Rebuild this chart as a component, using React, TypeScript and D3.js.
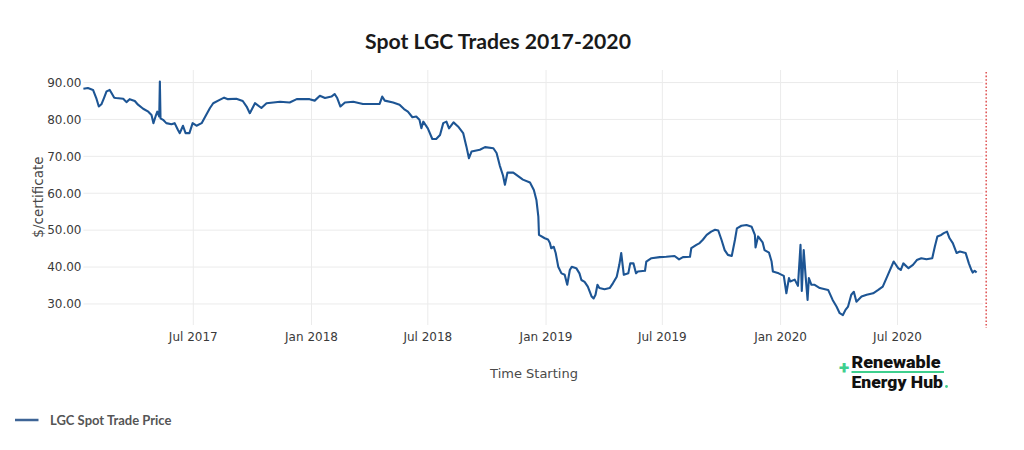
import React from "react";
import * as d3 from "d3";

const chartTitle = "Spot LGC Trades 2017-2020";
const yAxisTitle = "$/certificate";
const xAxisTitle = "Time Starting";
const seriesName = "LGC Spot Trade Price";
const yTickValues = [30, 40, 50, 60, 70, 80, 90];

const tradeDates = [
  "2017-01-11","2017-01-18","2017-01-26","2017-01-31","2017-02-04","2017-02-08","2017-02-12","2017-02-16","2017-02-21","2017-02-24",
  "2017-02-28","2017-03-03","2017-03-14","2017-03-19","2017-03-24","2017-04-01","2017-04-06","2017-04-14","2017-04-22","2017-04-27",
  "2017-04-30","2017-05-04","2017-05-06","2017-05-09","2017-05-10","2017-05-11","2017-05-15","2017-05-20","2017-05-28","2017-06-02",
  "2017-06-07","2017-06-10","2017-06-15","2017-06-19","2017-06-25","2017-06-30","2017-07-06","2017-07-14","2017-07-21","2017-07-27",
  "2017-08-01","2017-08-11","2017-08-18","2017-08-24","2017-09-06","2017-09-16","2017-09-22","2017-09-27","2017-10-05","2017-10-15",
  "2017-10-23","2017-11-13","2017-11-28","2017-12-09","2017-12-29",
  "2018-01-06","2018-01-14","2018-01-22","2018-02-01","2018-02-06","2018-02-10","2018-02-15","2018-02-22","2018-03-07","2018-03-22",
  "2018-04-07","2018-04-17","2018-04-21","2018-04-25","2018-05-08","2018-05-18","2018-05-25","2018-05-31","2018-06-07","2018-06-13",
  "2018-06-18","2018-06-21","2018-06-24","2018-07-01","2018-07-08","2018-07-14","2018-07-20","2018-07-25","2018-07-30","2018-08-03",
  "2018-08-10","2018-08-17","2018-08-25","2018-08-30","2018-09-03","2018-09-07","2018-09-20","2018-09-28","2018-10-11","2018-10-16",
  "2018-10-21","2018-10-26","2018-10-29","2018-11-02","2018-11-11","2018-11-18","2018-11-26","2018-12-07","2018-12-13","2018-12-17",
  "2018-12-20","2018-12-21","2018-12-30",
  "2019-01-04","2019-01-07","2019-01-09","2019-01-13","2019-01-16","2019-01-20","2019-01-25","2019-01-30","2019-02-03","2019-02-07",
  "2019-02-10","2019-02-17","2019-02-22","2019-02-25","2019-03-02","2019-03-07","2019-03-13","2019-03-16","2019-03-19","2019-03-22",
  "2019-03-25","2019-04-02","2019-04-10","2019-04-15","2019-04-21","2019-04-25","2019-04-28","2019-05-02","2019-05-09","2019-05-12",
  "2019-05-17","2019-05-21","2019-05-24","2019-06-04","2019-06-06","2019-06-14","2019-06-27","2019-07-07","2019-07-20","2019-07-27",
  "2019-08-02","2019-08-13","2019-08-15","2019-08-23","2019-08-28","2019-09-02","2019-09-08","2019-09-15","2019-09-21","2019-09-26",
  "2019-10-01","2019-10-06","2019-10-11","2019-10-17","2019-10-22","2019-10-25","2019-11-01","2019-11-09","2019-11-17","2019-11-22",
  "2019-11-23","2019-11-27","2019-12-04","2019-12-07","2019-12-14","2019-12-18","2019-12-20","2019-12-29",
  "2020-01-06","2020-01-10","2020-01-14","2020-01-16","2020-01-23","2020-01-28","2020-02-01","2020-02-03","2020-02-06","2020-02-09",
  "2020-02-12","2020-02-14","2020-02-18","2020-02-23","2020-03-02","2020-03-15","2020-03-22","2020-03-28","2020-04-02","2020-04-07",
  "2020-04-11","2020-04-15","2020-04-20","2020-04-24","2020-04-28","2020-05-06","2020-05-14","2020-05-24","2020-06-01","2020-06-08",
  "2020-06-16","2020-06-25","2020-07-02","2020-07-06","2020-07-10","2020-07-18","2020-07-25","2020-07-31","2020-08-07","2020-08-15",
  "2020-08-24","2020-08-28","2020-09-01","2020-09-07","2020-09-11","2020-09-16","2020-09-20","2020-09-25","2020-10-01","2020-10-06",
  "2020-10-15","2020-10-20","2020-10-24","2020-10-26","2020-10-29","2020-11-01"
];

const tradePrices = [
  88.3,88.5,88.0,85.8,83.5,84.1,85.8,87.6,88.0,87.1,
  85.9,85.8,85.6,84.7,85.5,85.0,84.0,82.9,82.1,81.2,
  79.0,81.2,82.1,80.8,90.3,80.3,79.9,79.0,78.7,79.0,
  77.2,76.3,78.3,76.3,76.3,79.0,78.3,79.0,81.2,83.1,
  84.4,85.3,85.9,85.5,85.6,85.0,83.5,81.7,84.4,83.1,
  84.4,84.8,84.6,85.5,85.5,
  85.1,86.4,85.8,86.2,86.9,85.8,83.5,84.6,84.8,84.2,
  84.2,84.2,86.2,85.1,84.6,84.0,82.8,82.1,80.6,80.8,
  79.9,77.6,79.4,77.6,74.7,74.7,75.8,79.0,79.4,77.6,
  79.2,78.1,76.3,72.7,69.5,71.3,71.8,72.5,72.2,70.9,
  67.5,64.8,62.3,65.6,65.6,64.7,63.7,62.9,60.9,58.2,
  53.7,48.7,47.8,
  47.5,46.5,45.1,45.5,43.8,40.1,38.3,37.9,35.2,39.2,
  40.1,39.7,38.3,36.5,36.0,34.7,32.0,31.5,32.5,35.2,
  34.3,34.0,34.3,35.6,37.4,40.6,43.8,37.9,38.3,41.0,
  41.0,38.3,38.8,39.0,41.5,42.4,42.7,42.8,43.0,42.1,
  42.7,42.8,45.1,46.0,46.5,47.4,48.7,49.6,50.1,49.9,
  47.4,44.6,43.3,43.0,47.4,50.5,51.2,51.4,50.9,48.7,
  45.3,48.3,46.7,44.6,43.9,41.5,38.8,38.3,
  37.6,32.9,37.0,36.1,36.6,34.9,46.0,33.5,44.6,37.4,
  31.1,37.0,35.2,35.2,34.3,33.8,31.1,29.3,27.5,27.0,
  28.4,29.3,32.5,33.3,30.6,32.0,32.5,32.9,33.8,34.7,
  37.9,41.5,39.7,39.2,41.0,39.7,40.6,41.9,42.4,42.1,
  42.4,45.5,48.3,48.7,49.2,49.6,47.8,46.5,43.8,44.2,
  43.8,41.0,39.2,38.5,39.0,38.5
];

const xDomain = ["2017-01-11", "2020-11-11"];
const yDomain = [24.3, 93.4];
const markerDate = "2020-11-16";

const parse = d3.timeParse("%Y-%m-%d");

export default function App() {
  const W = 1024, H = 450;
  const left = 83.4, right = 983, top = 70, bottom = 325;
  const x = d3.scaleTime().domain(xDomain.map((s) => parse(s) as Date)).range([left, right]);
  const y = d3.scaleLinear().domain(yDomain).range([bottom, top]);
  const data = tradeDates.map((d, i) => ({ date: parse(d) as Date, value: tradePrices[i] }));
  const line = d3
    .line<{ date: Date; value: number }>()
    .x((d) => x(d.date))
    .y((d) => y(d.value));
  const xTicks = x.ticks(d3.timeMonth.every(6) as any).filter((t) => t.getMonth() === 0 || t.getMonth() === 6);
  const fmtX = d3.timeFormat("%b %Y");
  const fmtY = d3.format(".2f");
  const tickFont = "'DejaVu Sans', Verdana, sans-serif";
  const mx = x(parse(markerDate) as Date);

  return (
    <svg
      width={W}
      height={H}
      style={{ position: "absolute", left: 0, top: 0, background: "#fff" }}
      xmlns="http://www.w3.org/2000/svg"
    >
      <rect x={0} y={0} width={W} height={H} fill="#fff" />
      <text x={498} y={49} textAnchor="middle" fontFamily="Lato, 'Open Sans', sans-serif" fontWeight={700} fontSize={21.2} fill="#1a1a1a">
        {chartTitle}
      </text>

      {/* horizontal grid */}
      {yTickValues.map((v) => (
        <line key={"gy" + v} x1={left} x2={right} y1={y(v)} y2={y(v)} stroke="#ebebeb" strokeWidth={1} />
      ))}
      {/* vertical grid */}
      {xTicks.map((t) => (
        <line key={"gx" + t.getTime()} x1={x(t)} x2={x(t)} y1={top} y2={bottom} stroke="#ebebeb" strokeWidth={1} />
      ))}

      {/* y tick labels */}
      {yTickValues.map((v) => (
        <text key={"ty" + v} x={81.5} y={y(v)} dy="0.36em" textAnchor="end" fontFamily={tickFont} fontSize={12} fill="#3a3a3a">
          {fmtY(v)}
        </text>
      ))}
      {/* x tick labels */}
      {xTicks.map((t) => (
        <text key={"tx" + t.getTime()} x={x(t)} y={340.5} textAnchor="middle" fontFamily={tickFont} fontSize={12} fill="#3a3a3a">
          {fmtX(t)}
        </text>
      ))}

      <text x={534} y={378} textAnchor="middle" fontFamily={tickFont} fontSize={13} fill="#4a4a4a">
        {xAxisTitle}
      </text>
      <text
        transform={`translate(43, 197) rotate(-90)`}
        textAnchor="middle"
        fontFamily={tickFont}
        fontSize={13.5}
        fill="#4a4a4a"
      >
        {yAxisTitle}
      </text>

      {/* marker line */}
      <line x1={mx} x2={mx} y1={72} y2={328} stroke="#e05a5a" strokeWidth={1.6} strokeDasharray="1.6,2" />

      {/* series */}
      <path d={line(data) || ""} fill="none" stroke="#1d5594" strokeWidth={2.1} strokeLinejoin="round" />

      {/* legend */}
      <line x1={15} x2={38.5} y1={420} y2={420} stroke="#3e6496" strokeWidth={2.5} />
      <text x={50} y={424.5} fontFamily="Lato, 'Open Sans', sans-serif" fontWeight={700} fontSize={13} fill="#555">
        {seriesName}
      </text>

      {/* logo */}
      <g fontFamily="Roboto, 'Open Sans', sans-serif" fontWeight={900}>
        <text x={844} y={367} textAnchor="middle" dy="0.35em" fontSize={19} fill="#3ecf8e">+</text>
        <text x={851.5} y={368} fontSize={17} fill="#111" textLength={89} lengthAdjust="spacingAndGlyphs">Renewable</text>
        <line x1={851.5} x2={944} y1={372} y2={372} stroke="#3ecf8e" strokeWidth={2} />
        <text x={851.5} y={388} fontSize={17} fill="#111" textLength={91.5} lengthAdjust="spacingAndGlyphs">Energy Hub</text>
        <circle cx={946.5} cy={386.5} r={1.4} fill="#3ecf8e" />
      </g>
    </svg>
  );
}
